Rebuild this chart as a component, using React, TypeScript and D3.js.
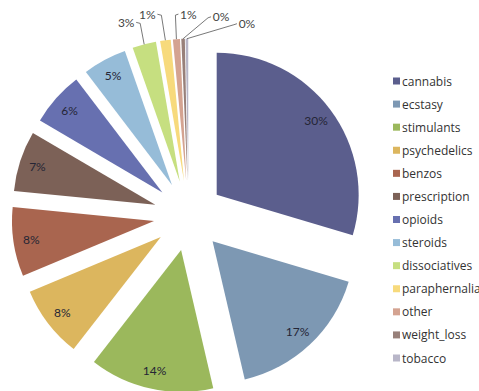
import React from "react";
import * as d3 from "d3";

const categories = [
  "cannabis", "ecstasy", "stimulants", "psychedelics", "benzos", "prescription",
  "opioids", "steroids", "dissociatives", "paraphernalia", "other", "weight_loss", "tobacco",
];
const values = [29.7, 16.8, 14.2, 8.2, 7.9, 6.9, 6.2, 5.0, 2.7, 1.2, 0.8, 0.4, 0.3];
const colors = [
  "#5b5e8d", "#7d98b3", "#9bb85c", "#dcb65e", "#a9654f", "#7c6157", "#6770b0",
  "#96bcd8", "#c6df80", "#f7da7c", "#d4a391", "#98807a", "#b8b6c8",
];
// offsets of outside labels (for the small slices) relative to slice outer point
const outsideLabelOffsets: [number, number][] = [
  [-18, -22], [-18, -26], [12, -25], [38, -22], [60, -15],
];

const W = 479, H = 391;
const cx = 188.6, cy = 215.7;
const R = 142;
const explode = 35;

export default function App() {
  const total = d3.sum(values);
  const pie = d3.pie<number>().sort(null).value((d) => d);
  const arcs = pie(values);
  const arc = d3.arc<d3.PieArcDatum<number>>().innerRadius(0).outerRadius(R);
  const labelArc = d3.arc<d3.PieArcDatum<number>>().innerRadius(124).outerRadius(124);
  const fmt = d3.format(".0%");
  const legendY = d3.scalePoint<string>().domain(categories).range([81, 358]);

  let smallIdx = 0;
  return (
    <svg width={W} height={H} style={{ position: "absolute", left: 0, top: 0, background: "#fff" }}>
      {arcs.map((a, i) => {
        const mid = (a.startAngle + a.endAngle) / 2;
        const ox = cx + explode * Math.sin(mid);
        const oy = cy - explode * Math.cos(mid);
        const frac = a.value / total;
        const label = fmt(frac);
        if (frac >= 0.04) {
          const [lx, ly] = labelArc.centroid(a);
          return (
            <g key={i} transform={`translate(${ox},${oy})`}>
              <path d={arc(a) || ""} fill={colors[i]} />
              <text x={lx} y={ly} textAnchor="middle" dominantBaseline="central"
                fontFamily="Lato, 'Open Sans', sans-serif" fontSize={12} fill="#252535">
                {label}
              </text>
            </g>
          );
        }
        const off = outsideLabelOffsets[smallIdx++];
        const px = ox + R * Math.sin(mid);
        const py = oy - R * Math.cos(mid);
        const tx = px + off[0];
        const ty = py + off[1];
        const left = off[0] < 0;
        const edgeX = left ? tx + 10 : tx - 10;
        const elbowX = left ? edgeX + 4 : edgeX - 3;
        return (
          <g key={i}>
            <path d={arc(a) || ""} fill={colors[i]} transform={`translate(${ox},${oy})`} />
            <polyline points={`${px},${py} ${elbowX},${ty + 1} ${edgeX},${ty}`}
              fill="none" stroke="#555" strokeWidth={0.8} />
            <text x={tx} y={ty} textAnchor="middle" dominantBaseline="central"
              fontFamily="Lato, 'Open Sans', sans-serif" fontSize={12} fill="#444">
              {label}
            </text>
          </g>
        );
      })}
      {categories.map((c, i) => {
        const y = legendY(c) as number;
        return (
          <g key={c}>
            <rect x={393} y={y - 3.5} width={7} height={7} fill={colors[i]} />
            <text x={402} y={y} dominantBaseline="central"
              fontFamily="'Open Sans', sans-serif" fontSize={12} fill="#333">
              {c}
            </text>
          </g>
        );
      })}
    </svg>
  );
}
